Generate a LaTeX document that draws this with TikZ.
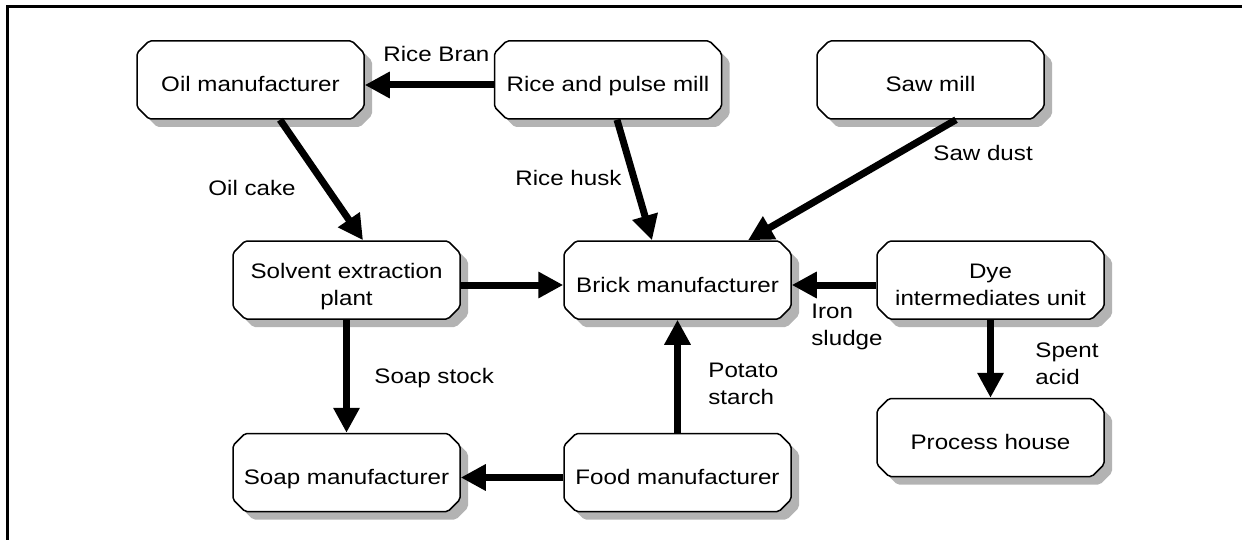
\documentclass[tikz,border=0pt]{standalone}
\usepackage{fontspec}
\setmainfont{Liberation Sans}[FakeStretch=1.15]
\usetikzlibrary{shapes.misc,shadows,arrows.meta}
\definecolor{shadowgray}{RGB}{179,179,179}
\begin{document}
\begin{tikzpicture}[x=0.5pt,y=-0.5pt,
  font=\fontsize{10.5}{13.3}\selectfont,
  box/.style={chamfered rectangle, chamfered rectangle xsep=3pt,
    chamfered rectangle ysep=3pt, rounded corners=1pt,
    draw, line width=0.75pt, fill=white,
    minimum width=113.5pt, minimum height=39pt, inner sep=0pt,
    align=center, text height=12pt, text depth=0pt,
    drop shadow={shadow xshift=4pt, shadow yshift=-4pt,
      fill=shadowgray, opacity=1}},
  twoline/.style={text height=25pt, text depth=0pt},
  flow/.style={line width=3.5pt, -{Triangle[length=12.5pt,width=12.5pt]}},
  lbl/.style={inner sep=0pt, anchor=base west, align=left}]

% page area and frame (top and left rules)
\useasboundingbox (0,0) rectangle (1242,540);
\draw[line width=1.1pt] (7.5,540) -- (7.5,6.5) -- (1242,6.5);

% units
\node[box] (oil)     at (250.5,80)    {Oil manufacturer};
\node[box] (rice)    at (608,80)      {Rice and pulse mill};
\node[box] (saw)     at (930.5,80)    {Saw mill};
\node[box,twoline] (solvent) at (346.5,280) {Solvent extraction\\plant};
\node[box] (brick)   at (677.5,280)   {Brick manufacturer};
\node[box,twoline] (dye) at (990.5,280) {Dye\\intermediates unit};
\node[box] (soap)    at (346.5,472.5) {Soap manufacturer};
\node[box] (food)    at (677.5,472.5) {Food manufacturer};
\node[box] (process) at (990.5,437.5) {Process house};

% material flows
\draw[flow] ([yshift=-2.5pt]rice.west) -- ([yshift=-2.5pt]oil.east);
\draw[flow] ([xshift=14.75pt]oil.south) -- ([xshift=8.25pt]solvent.north);
\draw[flow] ([xshift=4.5pt]rice.south) -- ([xshift=-12.75pt]brick.north);
\draw[flow] ([xshift=12.75pt]saw.south) -- ([xshift=35.25pt]brick.north);
\draw[flow] ([yshift=-2.5pt]solvent.east) -- ([yshift=-2.5pt]brick.west);
\draw[flow] ([yshift=-2.5pt]dye.west) -- ([yshift=-2.5pt]brick.east);
\draw[flow] (dye.south) -- (process.north);
\draw[flow] (solvent.south) -- (soap.north);
\draw[flow] ([yshift=-2.5pt]food.west) -- ([yshift=-2.5pt]soap.east);
\draw[flow] (food.north) -- (brick.south);

% flow labels
\node[lbl] (lbran)   at (383,62)   {Rice Bran};
\node[lbl] (lcake)   at (208,195)  {Oil cake};
\node[lbl] (lhusk)   at (515,185)  {Rice husk};
\node[lbl] (ldust)   at (933,161)  {Saw dust};
\node[lbl] (lsoap)   at (374,383)  {Soap stock};
\node[lbl] (liron)   at (811,345)  {Iron\\sludge};
\node[lbl] (lacid)   at (1035,384) {Spent\\acid};
\node[lbl] (lstarch) at (708,404)  {Potato\\starch};
\end{tikzpicture}
\end{document}
